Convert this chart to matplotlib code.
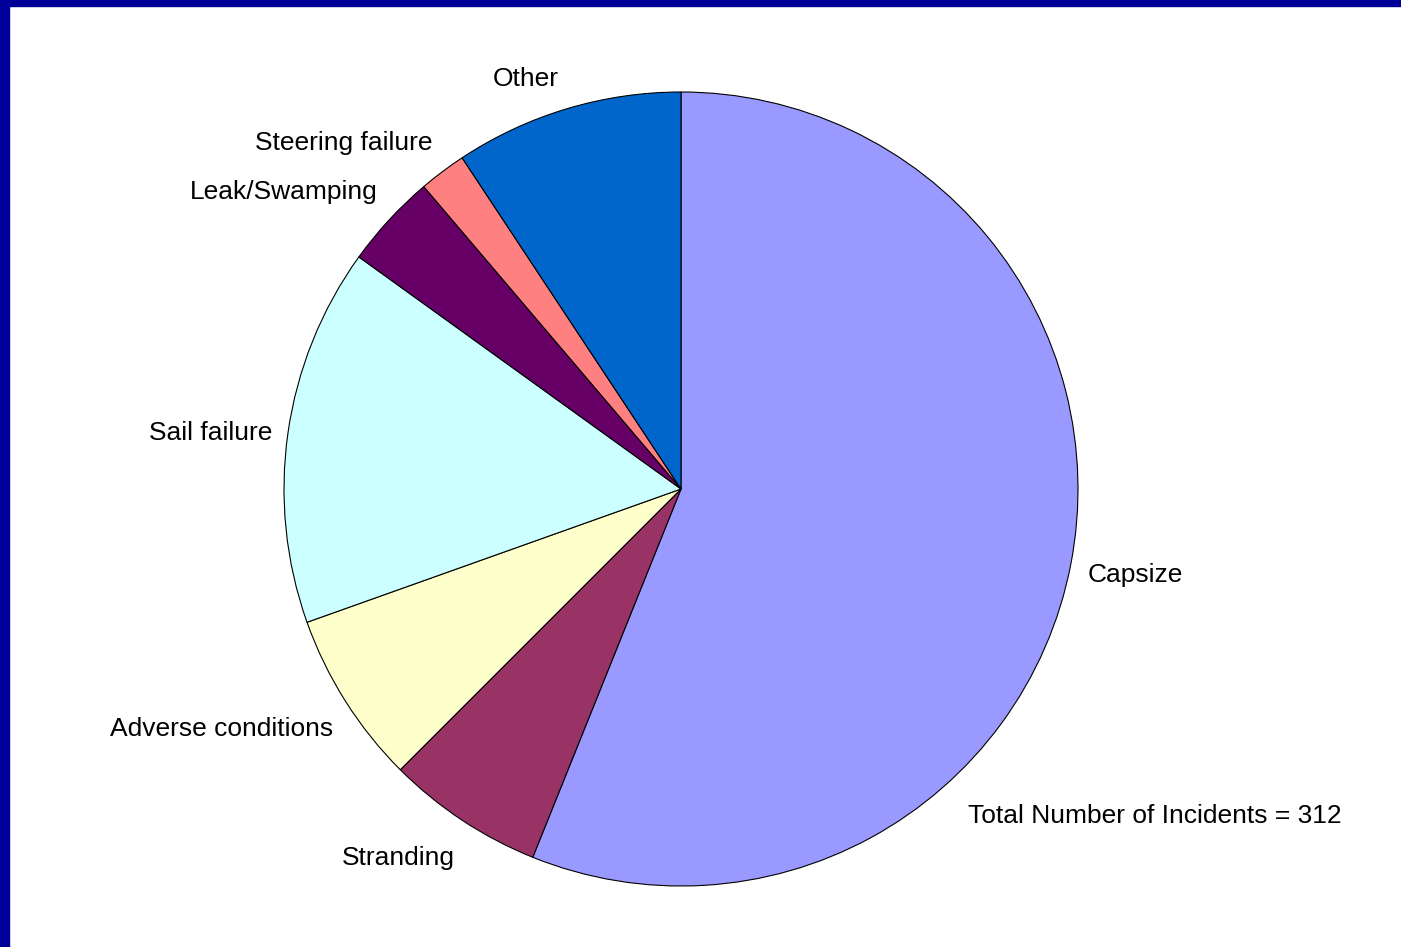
import matplotlib.pyplot as plt
from matplotlib.patches import Rectangle

plt.rcParams['font.family'] = ['Liberation Sans', 'DejaVu Sans']

# incidents by cause, clockwise from 12 o'clock
causes = ["Capsize", "Stranding", "Adverse conditions", "Sail failure",
          "Leak/Swamping", "Steering failure", "Other"]
incidents = [175, 20, 22, 48, 12, 6, 29]
colors = ["#9999FF", "#993366", "#FFFFCC", "#CCFFFF", "#660066", "#FF8080", "#0066CC"]

# label anchor (near edge x, baseline y) in pie-radius units
label_xy = [(1.025, -0.234), (-0.569, -0.947), (-0.877, -0.622), (-1.030, 0.123),
            (-0.763, 0.730), (-0.627, 0.854), (-0.307, 1.015)]

W, H, DPI = 1401, 947, 100
CX, CY, R = 681, 489, 397  # pie centre / radius in pixels
FS = 19

fig = plt.figure(figsize=(W / DPI, H / DPI), dpi=DPI)
ax = fig.add_axes([0, 0, 1, 1])

wedges, _ = ax.pie(incidents, colors=colors, startangle=90, counterclock=False,
                   wedgeprops=dict(edgecolor="black", linewidth=0.8))

for name, (x, y) in zip(causes, label_xy):
    ax.text(x, y, name, ha="left" if x > 0 else "right", va="baseline", fontsize=FS)

ax.set_aspect("auto")
ax.set_xlim(-CX / R, (W - CX) / R)
ax.set_ylim(-(H - CY) / R, CY / R)
ax.axis("off")

fig.text(968 / W, 1 - 823 / H, "Total Number of Incidents = 312",
         ha="left", va="baseline", fontsize=FS)

# dark blue frame on the left and top edges
fig.patches.append(Rectangle((0, 0), 9 / W, 1, transform=fig.transFigure,
                             color="#000099", zorder=10))
fig.patches.append(Rectangle((0, 1 - 6 / H), 1, 6 / H, transform=fig.transFigure,
                             color="#000099", zorder=10))

fig.savefig("out.png", dpi=DPI)
